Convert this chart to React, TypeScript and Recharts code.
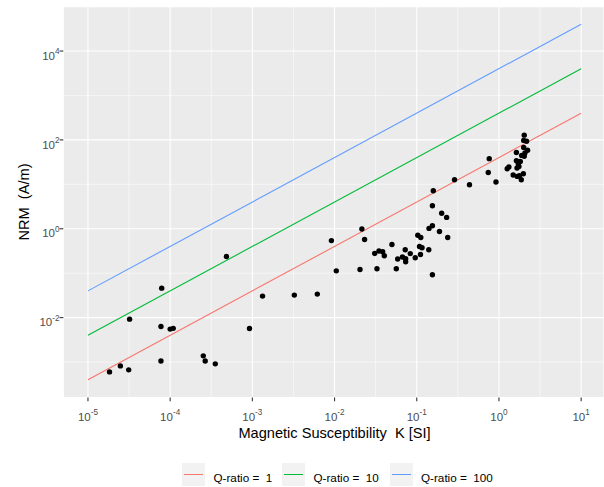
import React from 'react';
import {
  ComposedChart,
  XAxis,
  YAxis,
  CartesianGrid,
  Scatter,
  Line,
  Legend,
  ReferenceLine,
} from 'recharts';

const FONT = '"Liberation Sans", Arial, Helvetica, sans-serif';

// Magnetic susceptibility K [SI]
const kValues = [
  1.83e-5, 2.48e-5, 3.13e-5, 3.21e-5, 7.73e-5, 7.89e-5, 7.73e-5, 1.0e-4, 1.09e-4,
  2.53e-4, 2.67e-4, 3.54e-4, 4.84e-4, 9.23e-4, 1.33e-3, 3.24e-3, 6.17e-3, 9.16e-3,
  1.05e-2,
  2.04e-2, 2.15e-2, 2.32e-2, 3.08e-2, 3.47e-2, 3.85e-2, 4.03e-2, 3.28e-2, 4.99e-2,
  5.64e-2, 5.86e-2, 6.7e-2, 7.24e-2, 7.33e-2, 7.33e-2, 8.34e-2, 9.59e-2, 0.103,
  0.112, 0.108, 0.116, 0.111, 0.14, 0.155, 0.141, 0.155, 0.189, 0.238, 0.201, 0.231,
  0.155, 0.159, 0.288, 0.438,
  0.762, 0.741, 0.92, 1.26, 1.32, 1.49, 1.63, 1.63, 1.82, 1.72, 1.66, 1.75, 1.67,
  1.77, 1.98, 1.87, 2.03, 2.0, 2.17, 2.23, 2.0, 2.07, 1.89, 2.03,
];

// NRM (A/m)
const nrmValues = [
  6.01e-4, 8.2e-4, 6.67e-4, 9.25e-3, 6.31e-3, 4.61e-2, 1.06e-3, 5.51e-3, 5.74e-3,
  1.38e-3, 1.06e-3, 9.1e-4, 0.237, 5.69e-3, 3.05e-2, 3.21e-2, 3.38e-2, 0.542,
  0.113,
  0.121, 0.984, 0.574, 0.278, 0.315, 0.303, 0.247, 0.126, 0.443,
  0.126, 0.208, 0.231, 0.337, 0.181, 0.211, 0.276, 0.222, 0.714,
  0.634, 0.399, 0.373, 0.264, 0.337, 0.092, 1.02, 1.17, 0.865, 0.634, 2.23, 1.8,
  3.3, 7.18, 12.7, 9.79,
  37.8, 18.5, 11.3, 22.4, 24.5, 16.2, 52.2, 34.0, 32.8, 29.1, 23.3, 25.3, 15.1,
  15.6, 17.3, 12.7, 128, 97.5, 93.5, 58.6, 67.8, 50.7, 44.8, 43.0,
];

// Q-ratio reference lines (end points)
const lineK = [1e-5, 10];
const q1NRM = [4e-4, 400];
const q10NRM = [4e-3, 4000];
const q100NRM = [4e-2, 40000];

const qSeries = [
  { name: 'Q-ratio =  1', values: q1NRM, color: '#F8766D' },
  { name: 'Q-ratio =  10', values: q10NRM, color: '#00BA38' },
  { name: 'Q-ratio =  100', values: q100NRM, color: '#619CFF' },
];

const xTicks = [1e-5, 1e-4, 1e-3, 1e-2, 1e-1, 1, 10];
const yTicks = [1e-2, 1, 1e2, 1e4];
const xMinor = [3.162e-5, 3.162e-4, 3.162e-3, 3.162e-2, 0.3162, 3.162];
const yMinor = [1e-3, 1e-1, 10, 1e3];

const points = kValues.map((k, i) => ({ k, nrm: nrmValues[i] }));

const expOf = (v: number) => Math.round(Math.log10(v));

const XTick = (props: any) => {
  const { x, payload } = props;
  return (
    <text x={x} y={421} textAnchor="middle" fill="#4D4D4D" fontSize={11.5} fontFamily={FONT}>
      <tspan>10</tspan>
      <tspan dy={-6.5} fontSize={8.2}>
        {String(expOf(payload.value))}
      </tspan>
    </text>
  );
};

const YTick = (props: any) => {
  const { y, payload } = props;
  return (
    <text x={59.5} y={y + 8.7} textAnchor="end" fill="#4D4D4D" fontSize={11.5} fontFamily={FONT}>
      <tspan>10</tspan>
      <tspan dy={-5.7} fontSize={8.2}>
        {String(expOf(payload.value))}
      </tspan>
    </text>
  );
};

const XTitle = () => (
  <text
    x={334.5}
    y={438.3}
    textAnchor="middle"
    fill="#000"
    fontSize={14.6}
    fontFamily={FONT}
    style={{ whiteSpace: 'pre' }}
  >
    {'Magnetic Susceptibility  K [SI]'}
  </text>
);

const YTitle = () => (
  <text
    x={28.5}
    y={202}
    transform="rotate(-90, 28.5, 202)"
    textAnchor="middle"
    fill="#000"
    fontSize={14.6}
    fontFamily={FONT}
    style={{ whiteSpace: 'pre' }}
  >
    {'NRM  (A/m)'}
  </text>
);

const Dot = (props: any) => {
  const { cx, cy } = props;
  if (cx == null || cy == null) return <g />;
  return <circle cx={cx} cy={cy} r={2.7} fill="#000" />;
};

const legendLefts = [182, 282, 389.5];

const LegendContent = () => (
  <div style={{ position: 'relative', width: 604, height: 24, fontFamily: FONT }}>
    {qSeries.map((s, i) => (
      <React.Fragment key={s.name}>
        <div
          style={{
            position: 'absolute',
            left: legendLefts[i],
            top: 0,
            width: 23,
            height: 23,
            background: '#F2F2F2',
          }}
        >
          <div
            style={{
              position: 'absolute',
              left: 2,
              right: 2,
              top: 11,
              height: 1.1,
              background: s.color,
            }}
          />
        </div>
        <span
          style={{
            position: 'absolute',
            left: legendLefts[i] + 31.5,
            top: 2.4,
            lineHeight: '23px',
            fontSize: 11.7,
            color: '#000',
            whiteSpace: 'pre',
          }}
        >
          {s.name}
        </span>
      </React.Fragment>
    ))}
  </div>
);

export default function App() {
  return (
    <div
      style={{
        position: 'absolute',
        left: 0,
        top: 0,
        width: 604,
        height: 487,
        overflow: 'hidden',
        background: '#fff',
        fontFamily: FONT,
      }}
    >
      <ComposedChart width={604} height={487} margin={{ top: 6.6, right: 0, bottom: 0, left: 0 }}>
        <CartesianGrid fill="#EBEBEB" stroke="#FFFFFF" strokeWidth={1.1} />
        <XAxis
          dataKey="k"
          type="number"
          scale="log"
          domain={[Math.pow(10, -5.3), Math.pow(10, 1.278)]}
          allowDataOverflow
          ticks={xTicks}
          interval={0}
          height={89.4}
          axisLine={false}
          tickLine={{ stroke: '#333333', strokeWidth: 1.1 }}
          tickSize={3.7}
          tick={<XTick />}
          label={<XTitle />}
        />
        <YAxis
          dataKey="nrm"
          type="number"
          scale="log"
          domain={[Math.pow(10, -3.8), Math.pow(10, 5)]}
          allowDataOverflow
          ticks={yTicks}
          interval={0}
          width={63.3}
          axisLine={false}
          tickLine={{ stroke: '#333333', strokeWidth: 1.1 }}
          tickSize={3.7}
          tick={<YTick />}
          label={<YTitle />}
        />
        {xMinor.map((v) => (
          <ReferenceLine key={'xm' + v} x={v} stroke="#FFFFFF" strokeWidth={0.55} />
        ))}
        {yMinor.map((v) => (
          <ReferenceLine key={'ym' + v} y={v} stroke="#FFFFFF" strokeWidth={0.55} />
        ))}
        {qSeries.map((s) => (
          <Line
            key={s.name}
            name={s.name}
            data={lineK.map((k, i) => ({ k, nrm: s.values[i] }))}
            dataKey="nrm"
            stroke={s.color}
            strokeWidth={1.1}
            dot={false}
            activeDot={false}
            isAnimationActive={false}
          />
        ))}
        <Scatter
          name="samples"
          data={points}
          dataKey="nrm"
          fill="#000"
          shape={<Dot />}
          isAnimationActive={false}
          legendType="none"
        />
        <Legend
          verticalAlign="middle"
          align="center"
          layout="horizontal"
          wrapperStyle={{ position: 'absolute', top: 463.3, left: 0, width: 604, height: 24, margin: 0 }}
          content={() => <LegendContent />}
        />
      </ComposedChart>
    </div>
  );
}
